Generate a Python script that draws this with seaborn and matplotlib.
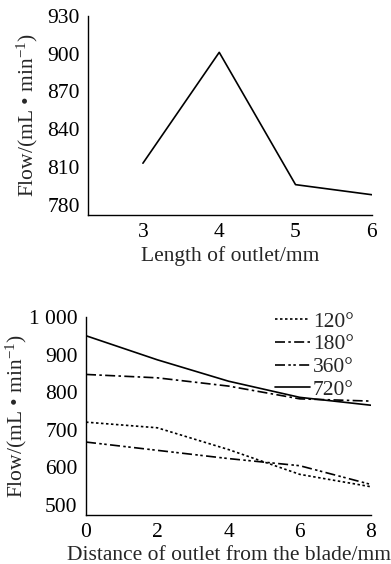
import pandas as pd
import matplotlib
matplotlib.use("Agg")
import matplotlib.pyplot as plt
import seaborn as sns

# top chart: flow vs outlet length
length_mm = [3, 4, 5, 6]
flow_length = [813, 901, 796, 788]

# bottom chart: flow vs distance from blade, per angle
distance_mm = [0, 2, 4, 6, 8]
flow_120 = [720, 705, 647, 581, 548]
flow_180 = [847, 838, 816, 782, 776]
flow_360 = [667, 645, 623, 604, 554]
flow_720 = [950, 886, 829, 786, 765]
angles = ['120°', '180°', '360°', '720°']

sns.set_style('white')
plt.rcParams['font.family'] = ['Liberation Serif', 'DejaVu Serif']
plt.rcParams['mathtext.fontset'] = 'custom'
plt.rcParams['mathtext.rm'] = 'Liberation Serif'
plt.rcParams['mathtext.default'] = 'regular'
fs = 15.5
ylab = r'Flow/(mL • min$^{-1}$)'

fig = plt.figure(figsize=(3.91, 5.64), dpi=100)

# Top plot
ax1 = fig.add_axes([0.225, 0.619, 0.726, 0.353])
sns.lineplot(x=length_mm, y=flow_length, color='black', lw=1.2, ax=ax1)
ax1.set_xlim(2.28, 6)
ax1.set_ylim(772, 930)
ax1.set_xticks([3, 4, 5, 6])
ax1.set_yticks([780, 810, 840, 870, 900, 930])
ax1.set_xlabel('Length of outlet/mm', fontsize=fs, labelpad=3)
ax1.set_ylabel(ylab, fontsize=fs)
ax1.yaxis.set_label_coords(-0.17, 0.5)

# Bottom plot
df = pd.DataFrame({
    'distance': distance_mm * 4,
    'flow': flow_120 + flow_180 + flow_360 + flow_720,
    'angle': [a for a in angles for _ in distance_mm],
})
ax2 = fig.add_axes([0.220, 0.087, 0.729, 0.351])
sns.lineplot(data=df, x='distance', y='flow', style='angle', color='black', lw=1.2,
             dashes={'120°': (1.5, 1.5), '180°': (6, 2, 1.5, 2),
                     '360°': (6, 2, 1.5, 1.5, 1.5, 2), '720°': ''}, ax=ax2)
ax2.set_xlim(0, 8)
ax2.set_ylim(473, 1000)
ax2.set_xticks([0, 2, 4, 6, 8])
ax2.set_yticks([500, 600, 700, 800, 900, 1000])
ax2.set_yticklabels(['500', '600', '700', '800', '900', '1 000'])
ax2.set_xlabel('Distance of outlet from the blade/mm', fontsize=fs, labelpad=3)
ax2.set_ylabel(ylab, fontsize=fs)
ax2.yaxis.set_label_coords(-0.2, 0.5)
handles, labels = ax2.get_legend_handles_labels()
ax2.legend(handles, labels, loc='upper right', bbox_to_anchor=(0.97, 1.07), frameon=False,
           fontsize=fs, handlelength=1.6, handletextpad=0.15, labelspacing=0.12,
           borderaxespad=0)

for ax in (ax1, ax2):
    sns.despine(ax=ax)
    for s in ('left', 'bottom'):
        ax.spines[s].set_color('black')
        ax.spines[s].set_linewidth(1.0)
    ax.tick_params(axis='x', direction='in', length=5, width=1, labelsize=fs, pad=6, colors='black')
    ax.tick_params(axis='y', direction='out', length=5, width=1, labelsize=fs, pad=1, colors='black')

fig.savefig('out.png', dpi=100)
